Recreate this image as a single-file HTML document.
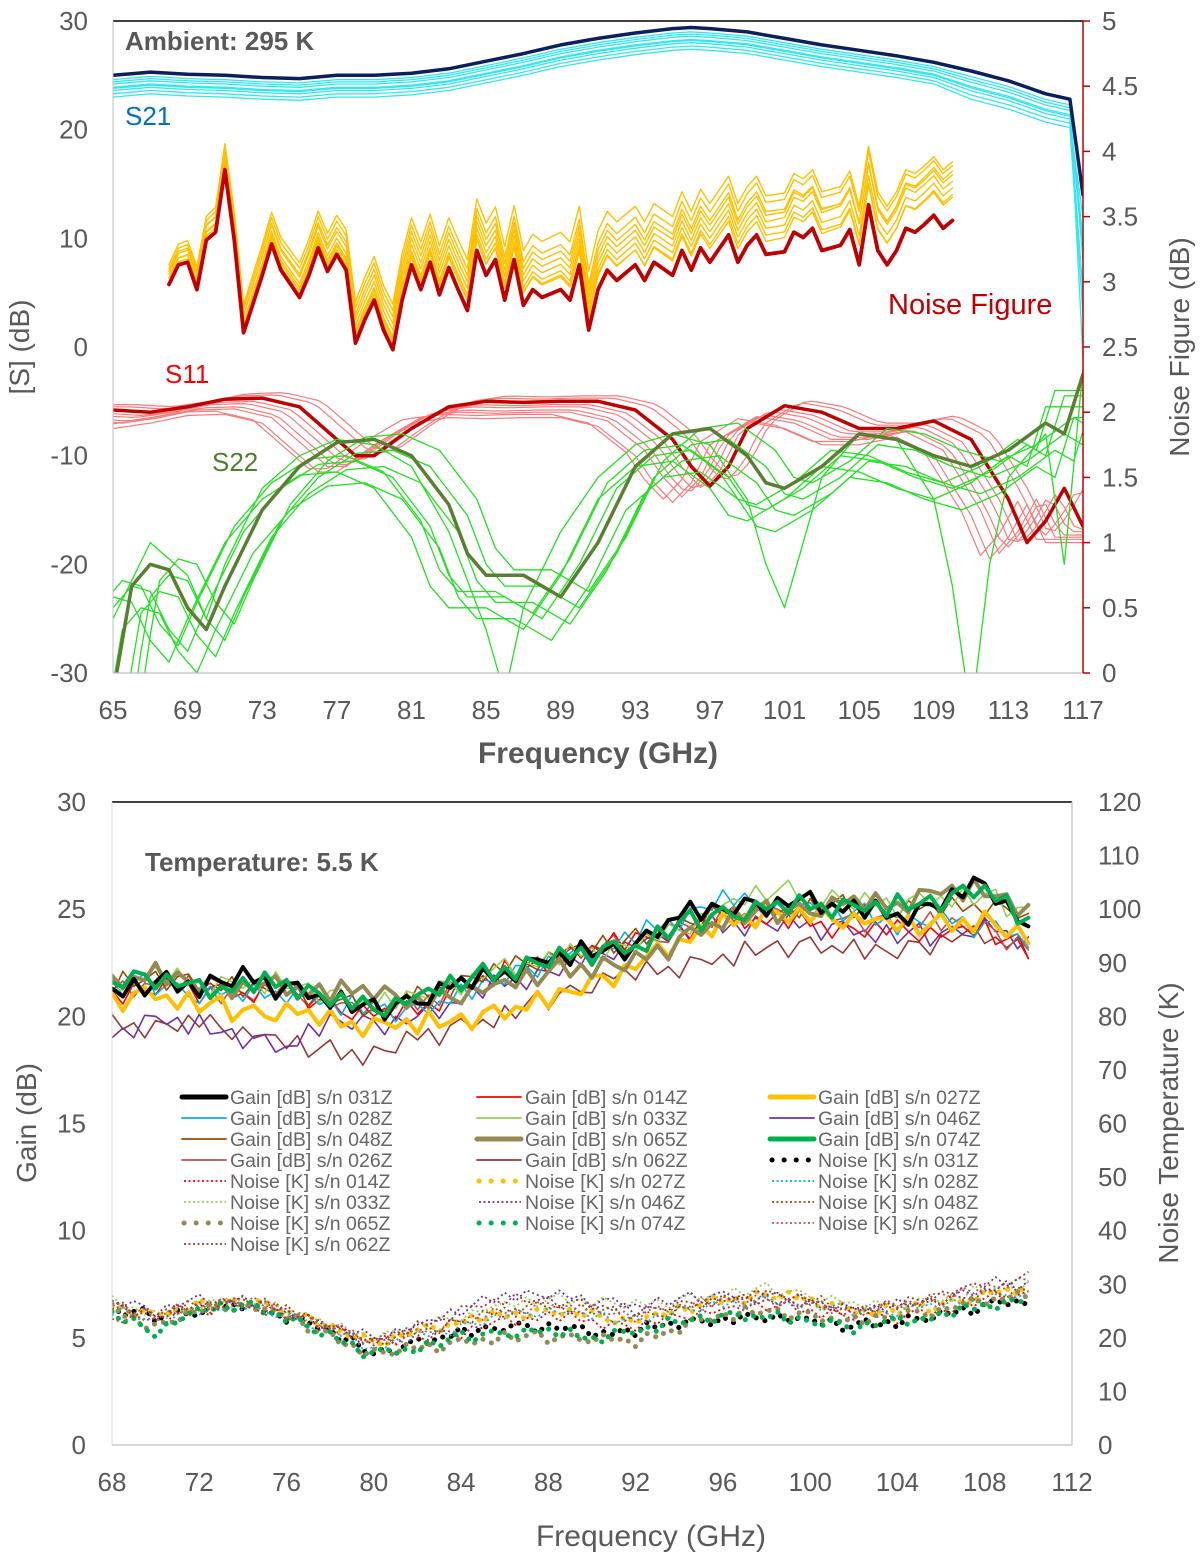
<!DOCTYPE html>
<html><head><meta charset="utf-8"><style>
body{margin:0;background:#fff;}
svg text{font-family:"Liberation Sans",Arial,sans-serif;}
</style></head><body>
<svg id="c" width="1200" height="1561" xmlns="http://www.w3.org/2000/svg">
<defs>
<clipPath id="clipT"><rect x="113" y="21" width="970" height="652"/></clipPath>
<clipPath id="clipB"><rect x="112" y="802" width="960" height="643"/></clipPath>
</defs>
<g id="top"></g>
<g id="bot"></g>
</svg>
<script>
// ===== TOP CHART DATA =====
const s21Freq=[65,67,69,71,73,75,77,79,81,83,85,87,89,91,93,95,96,97,99,101,103,105,107,109,111,113,115,116.3,117];
const s21Main=[25,25.3,25.1,25,24.8,24.7,25,25,25.2,25.6,26.3,27,27.8,28.4,28.9,29.3,29.4,29.3,29,28.4,27.8,27.3,26.8,26.2,25.4,24.5,23.3,22.8,14];
const s21VarOff=[-0.4,-0.8,-1.1,-1.4,-1.7,-2.0,-0.6,-1.2];
const s21VarEnd=[-1,8,10,5,12,3,15,9];
const nfFreq=[68,68.5,69,69.5,70,70.5,71,71.5,72,73,73.5,74,75,75.5,76,76.5,77,77.5,78,78.5,79,79.5,80,80.5,81,81.5,82,82.5,83,83.5,84,84.5,85,85.5,86,86.5,87,87.5,88,89,89.5,90,90.5,91,91.5,92,93,93.5,94,95,95.5,96,96.5,97,98,98.5,99,99.5,100,101,101.5,102,102.5,103,104,104.5,105,105.5,106,106.5,107,107.5,108,108.5,109,109.5,110];
const nfMain=[2.98,3.13,3.15,2.94,3.32,3.38,3.86,3.32,2.61,3.05,3.29,3.09,2.88,3.05,3.26,3.08,3.21,3.09,2.53,2.71,2.86,2.63,2.48,2.86,3.13,2.94,3.15,2.90,3.11,2.94,2.78,3.24,3.05,3.17,2.86,3.17,2.82,2.94,2.88,2.94,2.86,3.13,2.63,2.94,3.09,3.01,3.13,3.01,3.15,3.05,3.24,3.09,3.26,3.15,3.36,3.15,3.28,3.36,3.21,3.23,3.38,3.34,3.41,3.24,3.28,3.40,3.13,3.59,3.24,3.13,3.24,3.41,3.38,3.44,3.51,3.41,3.47];
const nfVarKnotF=[68,80,90,100,110];
const nfVarOff=[[0.05,0.1,0.15,0.2,0.25],[0.1,0.2,0.25,0.3,0.35],[0.12,0.3,0.35,0.4,0.42],[0.02,0.08,0.1,0.15,0.18],[0.08,0.25,0.3,0.33,0.3],[0.15,0.35,0.45,0.45,0.45],[0.05,0.15,0.2,0.25,0.38],[0.0,0.05,0.12,0.1,0.2]];
const s11Freq=[65,67,69,71,73,75,77,78,79,81,83,85,87,89,91,93,95,96,97,98,99,101,103,105,107,109,111,113,114,115,116,117];
const s11Main=[-5.8,-6,-5.5,-4.8,-4.7,-5.5,-8.5,-10,-10,-7.5,-5.5,-5,-5.1,-5,-5,-5.8,-8.5,-11,-12.8,-11,-7.5,-5.4,-6,-7.5,-7.5,-6.8,-8.5,-14,-18,-16,-13,-16.5];
const s11Shift=[0.8,1.5,-0.8,2,1.2,-1.2,2.5,0.4];
const s11Off=[-0.5,-1,0.3,-1.5,-0.8,0.5,-1.2,-0.3];
const s22Freq=[65,65.2,66,67,68,69,70,71,73,75,77,79,81,83,84,85,87,89,91,93,95,97,99,100,101,103,105,107,109,111,113,115,116,117];
const s22Main=[-33,-30,-22,-20,-20.5,-24,-26,-22,-15,-11,-8.8,-8.5,-10,-14.5,-19,-21,-21,-23,-18,-11,-8,-7.5,-10,-12.5,-13,-11,-8,-8.5,-10,-11,-9.5,-7,-8,-2.5];
const s22Shift=[-1,1,2,-1.5,0.5,1.5,-0.5];
const s22Off=[-1,-2,-3,0.5,-4,-1.5,-2.5];
const s22DeepF=[65,67,69,70,71,73,75,77,79,81,83,85,86,87,89,91,93,95,97,99,100,101,102,103,105,107,109,110,111,112,113,115,116,117];
const s22Deep=[-25,-18,-21,-25,-20,-13,-10,-8.5,-9,-11,-17,-26,-32,-24,-17,-12,-9,-8,-9,-14,-20,-24,-18,-12,-8,-8.5,-14,-22,-34,-20,-12,-8,-20,-2];
// ===== BOTTOM CHART DATA =====
const knotF=[68,70,72,74,76,78,80,82,84,86,88,90,92,94,96,98,100,102,104,106,108,110];
const gainSeries={
'031Z':[21,21.5,21.4,21.8,21.3,20.8,20.2,20.8,21.5,22,22.6,23,23.2,24.8,25,25.2,25.3,25,24.6,25.3,26.2,24],
'014Z':[21,21.3,21.2,21,21.2,20.5,20,20.3,21.2,22,22.5,23.2,23.6,24,24.5,24.5,24.3,24,24,23.8,24,23],
'027Z':[20.8,21,20.5,20.2,20.2,19.8,19.5,19.6,19.8,20.2,20.8,21.5,22.3,23.5,24.2,24.8,24.6,24.5,24.2,24.2,24.5,23.5],
'028Z':[21.2,21.5,21,21,21.1,20.5,20.3,20.2,21,21.8,22.5,23,23.7,24.5,25.5,25,25,24.8,24.3,24.5,24.2,23.6],
'033Z':[21.5,22,21.5,21.4,21.5,21,20.5,21,21.5,22.2,22.6,23,23.3,24,25,25.8,25.7,25.3,25.2,25.5,25.5,24.8],
'046Z':[19.2,19.8,19.5,19,18.5,19.8,19.6,19.8,20.8,21.5,22,22.8,23.3,23.8,24.2,24.3,24.2,24,23.7,23.8,24.2,23.2],
'048Z':[21.4,21.8,21.5,21.3,21.3,20.7,20.3,20.8,21.6,22.2,22.7,23.2,23.5,24.2,24.8,25,25,25.1,25,25,25.2,24.5],
'065Z':[21.5,22,21.5,21.3,21.4,21,21.3,20.5,21,21.4,22,22.3,22.5,23.5,24.5,24.8,25,25.3,25.2,25.8,25.8,25],
'074Z':[21.6,21.8,21.2,21.4,21.5,20.8,20.3,20.8,21.6,22.1,22.6,23,23.2,24.2,24.8,25,25.2,25,25.1,25.4,26,24.3],
'026Z':[21,21.6,21.2,21,21.2,20.5,20.2,20.6,21.4,22,22.5,23,23.4,24,24.6,24.8,24.8,24.5,24.3,24.4,24,23.2],
'062Z':[19.5,19.5,19.7,19.2,18.7,18.3,18.2,19,19.5,20,20.8,21.5,22,22.3,22.6,23.2,23.3,23.1,23,23.5,23.8,23]};
const noiseSeries={
'031Z':[25,24,25,26,24,21,17,19,21,22,22,21,21,23,23,24,23,22,23,24,26,27],
'014Z':[24,23,25,26,25,22,19,20,21,23,24,23,22,24,25,26,25,24,24,25,27,28],
'027Z':[26,24,26,27,25,22,19,21,23,24,25,24,23,25,27,28,27,25,25,26,28,29],
'028Z':[25,23,25,26,24,21,18,20,22,24,25,24,23,25,26,27,26,25,25,26,27,28],
'033Z':[27,24,26,27,25,22,20,22,24,26,27,27,26,27,28,29,28,26,26,27,29,30],
'046Z':[27,25,27,27,25,22,20,22,25,28,28,27,26,27,28,28,27,25,26,27,29,30],
'048Z':[26,24,26,27,25,22,19,21,23,25,26,25,24,25,27,28,27,25,26,27,28,29],
'065Z':[25,22,25,26,24,20,17,18,19,20,20,20,19,22,24,25,24,23,24,25,27,28],
'074Z':[24,21,25,26,24,20,17,18,20,21,21,20,21,23,24,24,23,22,23,24,26,27],
'026Z':[26,24,26,27,25,22,19,21,23,25,26,25,24,26,27,27,26,25,26,28,29,31],
'062Z':[26,24,26,26,24,22,19,22,25,27,27,26,25,26,27,27,26,25,26,28,30,31]};
const ripple=[0.3,-0.2,0.5,-0.4,0.1,0.6,-0.3,0.2,-0.5,0.4,0.0,-0.3,0.5,-0.1,0.3,-0.6,0.2,0.4,-0.2,0.1,-0.4,0.5,-0.3,0.2,0.6,-0.5,0.1,0.3,-0.2,-0.4,0.4,0.0,0.3,-0.3,0.5,-0.2,0.1,-0.5,0.4,0.2,-0.1,0.3,-0.4,0.6,-0.2,0.0,0.3,-0.5,0.2,0.4,-0.3,0.1,-0.2,0.5,-0.4,0.3,0.0,-0.3,0.4,0.2,-0.5,0.3,-0.1,0.2,0.5,-0.4,0.1,-0.2,0.4,-0.3,0.6,-0.1,0.2,-0.5,0.3,0.1,-0.3,0.4,-0.2,0.5,0.0,-0.4,0.3,-0.1,0.2];
const topXTicks=[65,69,73,77,81,85,89,93,97,101,105,109,113,117];
const topYTicks=[-30,-20,-10,0,10,20,30];
const topRTicks=[0,0.5,1,1.5,2,2.5,3,3.5,4,4.5,5];
const botXTicks=[68,72,76,80,84,88,92,96,100,104,108,112];
const botYTicks=[0,5,10,15,20,25,30];
const botRTicks=[0,10,20,30,40,50,60,70,80,90,100,110,120];

// ===== helpers =====
const NS='http://www.w3.org/2000/svg';
function mk(parent,tag,attrs,txt){const e=document.createElementNS(NS,tag);for(const k in attrs)e.setAttribute(k,attrs[k]);if(txt!==undefined)e.textContent=txt;parent.appendChild(e);return e;}
function interp(xs,ys,x){if(x<=xs[0])return ys[0];for(let i=1;i<xs.length;i++){if(x<=xs[i]){const t=(x-xs[i-1])/(xs[i]-xs[i-1]);return ys[i-1]+t*(ys[i]-ys[i-1]);}}return ys[ys.length-1];}
function pathD(pts){return pts.map((p,i)=>(i?'L':'M')+p[0].toFixed(1)+' '+p[1].toFixed(1)).join(' ');}
const TF=26;

// ===== TOP =====
const T=document.getElementById('top');
const xT=f=>113+(f-65)*970/52, yL=v=>21+(30-v)*652/60, yR=n=>673-n*130.4;
const gT=mk(T,'g',{'clip-path':'url(#clipT)'});
function line(g,d,col,w,name,extra){const p=mk(g,'path',Object.assign({d:d,fill:'none',stroke:col,'stroke-width':w,'stroke-linejoin':'round','stroke-linecap':'round'},extra||{}));return p;}
s21VarOff.forEach((o,k)=>{const pts=s21Freq.map((f,i)=>[xT(f),yL(i===s21Freq.length-1?s21VarEnd[k]:s21Main[i]+o*(f>110?1.3:1))]);line(gT,pathD(pts),'#33E6F0',1.3,'s21-variant-line');});
line(gT,pathD(s21Freq.map((f,i)=>[xT(f),yL(s21Main[i])])),'#0B1F5C',3.5,'s21-main-line');
s11Shift.forEach((s,k)=>{const pts=[];for(let f=65;f<=117;f+=0.5){pts.push([xT(f),yL(interp(s11Freq,s11Main,f+s)+s11Off[k])]);}line(gT,pathD(pts),'#F47C7C',1.2,'s11-variant-line');});
line(gT,pathD(s11Freq.map((f,i)=>[xT(f),yL(s11Main[i])])),'#C00000',3.5,'s11-main-line');
s22Shift.forEach((s,k)=>{const pts=[];for(let f=65;f<=117;f+=0.5){pts.push([xT(f),yL(interp(s22Freq,s22Main,f+s)+s22Off[k])]);}line(gT,pathD(pts),'#22E022',1.3,'s22-variant-line');});
line(gT,pathD(s22DeepF.map((f,i)=>[xT(f),yL(s22Deep[i])])),'#22E022',1.3,'s22-variant-line');
line(gT,pathD(s22Freq.map((f,i)=>[xT(f),yL(s22Main[i])])),'#5A7F32',3.5,'s22-main-line');
nfVarOff.forEach((o)=>{const pts=nfFreq.map((f,i)=>[xT(f),yR(nfMain[i]+interp(nfVarKnotF,o,f))]);line(gT,pathD(pts),'#FFC000',1.4,'noise-figure-variant-line');});
line(gT,pathD(nfFreq.map((f,i)=>[xT(f),yR(nfMain[i])])),'#C00000',3.8,'noise-figure-main-line');
mk(T,'line',{x1:113,y1:21,x2:1083,y2:21,stroke:'#000','stroke-width':1.5,});
mk(T,'line',{x1:113,y1:21,x2:113,y2:673,stroke:'#BFBFBF','stroke-width':1,});
mk(T,'line',{x1:113,y1:673,x2:1083,y2:673,stroke:'#BFBFBF','stroke-width':1.2,});
mk(T,'line',{x1:1083,y1:21,x2:1083,y2:673,stroke:'#C00000','stroke-width':1.5,});
topRTicks.forEach(v=>{mk(T,'line',{x1:1083,y1:yR(v),x2:1090,y2:yR(v),stroke:'#C00000','stroke-width':1.5});const t=mk(T,'text',{x:1102,y:yR(v)+9,'font-size':TF,fill:'#595959'},String(v));});
topYTicks.forEach(v=>{const t=mk(T,'text',{x:88,y:yL(v)+9,'font-size':TF,fill:'#595959','text-anchor':'end'},String(v));});
topXTicks.forEach(v=>{const t=mk(T,'text',{x:xT(v),y:719,'font-size':TF,fill:'#595959','text-anchor':'middle'},String(v));});
mk(T,'text',{x:598,y:763,'font-size':30,'font-weight':'bold',fill:'#595959','text-anchor':'middle',},'Frequency (GHz)');
mk(T,'text',{x:0,y:0,'font-size':28,fill:'#595959','text-anchor':'middle',transform:'translate(29,347) rotate(-90)',},'[S] (dB)');
mk(T,'text',{x:0,y:0,'font-size':28,fill:'#595959','text-anchor':'middle',transform:'translate(1189,347) rotate(-90)',},'Noise Figure (dB)');
mk(T,'text',{x:125,y:50,'font-size':26,'font-weight':'bold',fill:'#595959',},'Ambient: 295 K');
mk(T,'text',{x:125,y:125,'font-size':26,fill:'#0070C0',},'S21');
mk(T,'text',{x:888,y:314,'font-size':29,fill:'#C00000',},'Noise Figure');
mk(T,'text',{x:165,y:383,'font-size':26,fill:'#FF0000',},'S11');
mk(T,'text',{x:212,y:471,'font-size':26,fill:'#4F7F2A',},'S22');

// ===== BOTTOM =====
const B=document.getElementById('bot');
const xB=f=>112+(f-68)*960/44, yG=g=>1445-g*643/30, yN=k=>1445-k*643/120;
const gB=mk(B,'g',{'clip-path':'url(#clipB)'});
const styles={
'031Z':{c:'#000000',w:5},'014Z':{c:'#FF0000',w:1.6},'027Z':{c:'#FFC000',w:5},'028Z':{c:'#00B0F0',w:1.6},
'033Z':{c:'#92D050',w:1.6},'046Z':{c:'#7030A0',w:1.6},'048Z':{c:'#9C4A00',w:1.6},'065Z':{c:'#948A54',w:5},
'074Z':{c:'#00B050',w:5},'026Z':{c:'#C0504D',w:1.6},'062Z':{c:'#953735',w:1.6}};
const ids=Object.keys(gainSeries);
function seriesPts(knots,idx,yf,rs){const pts=[];for(let i=0;i<=84;i++){const f=68+i*0.5;pts.push([xB(f),yf(interp(knotF,knots,f)+rs*ripple[(i+idx*7)%ripple.length])]);}return pts;}
ids.forEach((id,idx)=>{const s=styles[id];const bold=s.w>3;
  line(gB,pathD(seriesPts(noiseSeries[id],idx+3,yN,2.2)),s.c,bold?5:1.8,'noise-line-'+id,bold?{'stroke-dasharray':'0.1 9'}:{'stroke-dasharray':'2 3','stroke-linecap':'butt'});});
const gainOrder=['062Z','046Z','026Z','014Z','028Z','048Z','033Z','027Z','065Z','031Z','074Z'];
gainOrder.forEach(id=>{const s=styles[id];const idx=ids.indexOf(id);line(gB,pathD(seriesPts(gainSeries[id],idx,yG,1)),s.c,s.w>3?4:1.6,'gain-line-'+id);});
mk(B,'line',{x1:112,y1:802,x2:1072,y2:802,stroke:'#000','stroke-width':1.5,});
mk(B,'line',{x1:112,y1:802,x2:112,y2:1445,stroke:'#D9D9D9','stroke-width':1});
mk(B,'line',{x1:1072,y1:802,x2:1072,y2:1445,stroke:'#BFBFBF','stroke-width':1.2,});
mk(B,'line',{x1:112,y1:1445,x2:1072,y2:1445,stroke:'#BFBFBF','stroke-width':1.2,});
botYTicks.forEach(v=>{const t=mk(B,'text',{x:86,y:yG(v)+9,'font-size':TF,fill:'#595959','text-anchor':'end'},String(v));});
botRTicks.forEach(v=>{const t=mk(B,'text',{x:1098,y:yN(v)+9,'font-size':TF,fill:'#595959'},String(v));});
botXTicks.forEach(v=>{const t=mk(B,'text',{x:xB(v),y:1491,'font-size':TF,fill:'#595959','text-anchor':'middle'},String(v));});
mk(B,'text',{x:651,y:1546,'font-size':30,fill:'#595959','text-anchor':'middle',},'Frequency (GHz)');
mk(B,'text',{x:0,y:0,'font-size':28,fill:'#595959','text-anchor':'middle',transform:'translate(36,1123) rotate(-90)',},'Gain (dB)');
mk(B,'text',{x:0,y:0,'font-size':28,fill:'#595959','text-anchor':'middle',transform:'translate(1178,1123) rotate(-90)',},'Noise Temperature (K)');
mk(B,'text',{x:145,y:871,'font-size':26,'font-weight':'bold',fill:'#595959',},'Temperature: 5.5 K');
const legendItems=[['g','031Z'],['g','014Z'],['g','027Z'],['g','028Z'],['g','033Z'],['g','046Z'],['g','048Z'],['g','065Z'],['g','074Z'],['g','026Z'],['g','062Z'],['n','031Z'],['n','014Z'],['n','027Z'],['n','028Z'],['n','033Z'],['n','046Z'],['n','048Z'],['n','065Z'],['n','074Z'],['n','026Z'],['n','062Z']];
const colX=[180,475,768];
const L=mk(B,'g',{});
legendItems.forEach((it,i)=>{const cx=colX[i%3], cy=1097+Math.floor(i/3)*21;const s=styles[it[1]];const bold=s.w>3;
  const e=mk(L,'g',{});
  if(it[0]==='g'){mk(e,'line',{x1:cx+2,y1:cy,x2:cx+46,y2:cy,stroke:s.c,'stroke-width':bold?5:1.8,'stroke-linecap':'round'});}
  else{mk(e,'line',{x1:cx+4,y1:cy,x2:cx+46,y2:cy,stroke:s.c,'stroke-width':bold?5:1.8,'stroke-linecap':bold?'round':'butt','stroke-dasharray':bold?'0.1 12':'2 2.5'});}
  mk(e,'text',{x:cx+50,y:cy+7,'font-size':19.5,fill:'#666'},(it[0]==='g'?'Gain [dB] s/n ':'Noise [K] s/n ')+it[1]);});
</script>
</body></html>
